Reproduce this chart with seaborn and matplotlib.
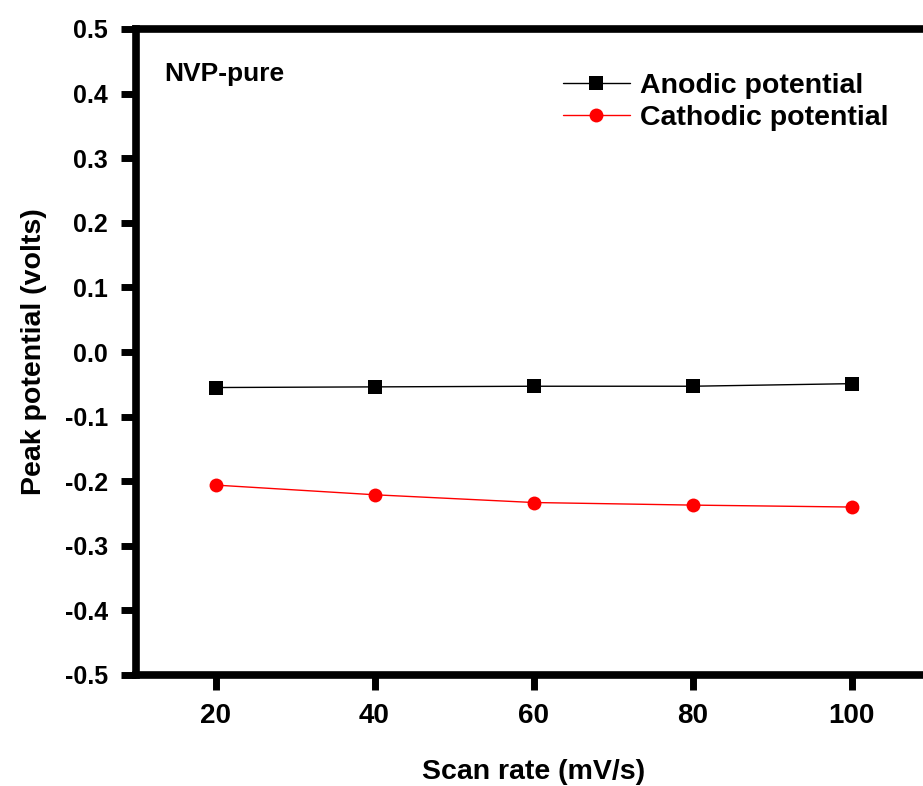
import matplotlib
matplotlib.use("Agg")
import matplotlib.pyplot as plt
import seaborn as sns
import pandas as pd

scan_rate = [20, 40, 60, 80, 100]
anodic = [-0.055, -0.054, -0.053, -0.053, -0.049]
cathodic = [-0.206, -0.221, -0.233, -0.237, -0.240]
series_names = ["Anodic potential", "Cathodic potential"]
y_ticks = [-0.5, -0.4, -0.3, -0.2, -0.1, 0.0, 0.1, 0.2, 0.3, 0.4, 0.5]
x_ticks = [20, 40, 60, 80, 100]

sns.set_style("white")
plt.rcParams['font.family'] = ['Liberation Sans', 'DejaVu Sans']
plt.rcParams['font.weight'] = 'bold'
plt.rcParams['text.color'] = 'black'
plt.rcParams['axes.labelcolor'] = 'black'
plt.rcParams['xtick.color'] = 'black'
plt.rcParams['ytick.color'] = 'black'

df = pd.DataFrame({
    "rate": scan_rate * 2,
    "value": anodic + cathodic,
    "series": [series_names[0]] * 5 + [series_names[1]] * 5,
})

fig = plt.figure(figsize=(9.23, 7.86), dpi=100)
ax = fig.add_axes([136 / 923, (786 - 675) / 786, (931 - 136) / 923, (675 - 29) / 786])

palette = {series_names[0]: "black", series_names[1]: "#ff0000"}
markers = {series_names[0]: "s", series_names[1]: "o"}
sns.lineplot(data=df, x="rate", y="value", hue="series", style="series",
             palette=palette, markers=markers, dashes=False, ax=ax,
             linewidth=1.0, markersize=10, markeredgewidth=0)

ax.set_xlim(10, 110)
ax.set_ylim(-0.5, 0.5)
ax.set_xticks(x_ticks)
ax.set_yticks(y_ticks)
ax.set_yticklabels([f"{v:.1f}" for v in y_ticks])
ax.tick_params(axis="both", which="major", bottom=True, left=True,
               top=False, right=False, direction="out", length=11, width=5,
               colors="black")
ax.tick_params(axis="y", labelsize=18, pad=9)
ax.tick_params(axis="x", labelsize=20, pad=9)
for lab in ax.get_xticklabels() + ax.get_yticklabels():
    lab.set_fontweight("bold")
for s in ax.spines.values():
    s.set_linewidth(5.5)
    s.set_color("black")

ax.set_xlabel("Scan rate (mV/s)", fontsize=20.5, fontweight="bold", labelpad=22, color="black")
ax.set_ylabel("Peak potential (volts)", fontsize=20.5, fontweight="bold", labelpad=13, color="black")

ax.text(0.036, 0.949, "NVP-pure", transform=ax.transAxes, fontsize=19,
        fontweight="bold", va="top", ha="left", color="black")

leg = ax.legend(loc="upper left", bbox_to_anchor=(0.537, 0.932), frameon=False,
                fontsize=20.5, handlelength=2.35, handletextpad=0.35,
                labelspacing=0.2, borderaxespad=0, borderpad=0)
for t in leg.get_texts():
    t.set_fontweight("bold")
    t.set_color("black")

fig.savefig("out.png", dpi=100)
